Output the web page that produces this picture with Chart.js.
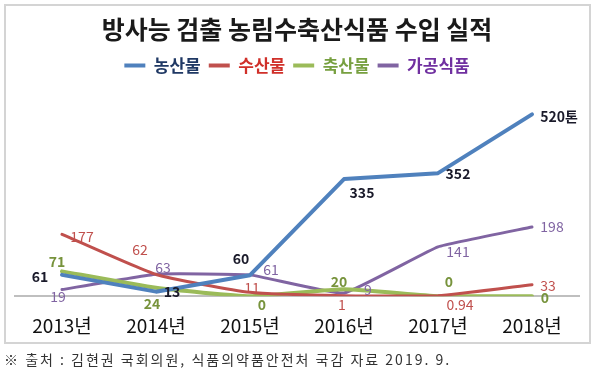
<!DOCTYPE html>
<html><head><meta charset="utf-8">
<script src="https://cdn.jsdelivr.net/npm/chart.js@4/dist/chart.umd.min.js"></script>
<style>
html,body{margin:0;padding:0;background:#fff;width:600px;height:370px;overflow:hidden}
#wrap{position:absolute;left:0;top:0;width:600px;height:364px}
#note{position:absolute;left:4px;top:349px;font:14px "Noto Sans CJK KR";color:#333;white-space:nowrap;letter-spacing:2px}
</style></head><body>
<div id="wrap"><canvas id="c" width="600" height="364"></canvas></div>
<div id="note">※ 출처 : 김현권 국회의원, 식품의약품안전처 국감 자료 2019. 9.</div>
<script>
// ---- data ----
const categories = ['2013년','2014년','2015년','2016년','2017년','2018년'];
const seriesNames = ['농산물','수산물','축산물','가공식품'];
const agri = [61, 13, 60, 335, 352, 520];
const fish = [177, 62, 11, 1, 0.94, 33];
const livestock = [71, 24, 0, 20, 0, 0];
const processed = [19, 63, 61, 9, 141, 198];
const lastSuffix = '톤';

// ---- styles ----
const FONT = '"Noto Sans CJK KR", "Noto Sans", sans-serif';
const lineColors = ['#4F81BD', '#C0504D', '#9BBB59', '#8064A2'];
const legendTextColors = ['#1F3864', '#D0302A', '#77A040', '#7030A0'];
const labelColors = ['#1a1a2a', '#C0504D', '#77933C', '#8064A2'];
const labelWeights = ['bold', 'normal', 'bold', 'normal'];
const lineWidths = [4, 3, 4, 3];
const tensions = [0, 0.15, 0.15, 0.1];
// label offsets [dx, dy] relative to each point
const labelOffsets = [
  [[-22, 2], [16, 0], [-9, -17], [18, 14], [20, 1], [27, 2]],
  [[20, 2], [-16, -25], [2, -5], [-2, 9], [22, 9], [16, 1]],
  [[-5, -10], [-4, 16], [12, 8], [-5, -8], [11, -15], [13, 1]],
  [[-4, 7], [7, -6], [21, -5], [24, -3], [20, 5], [20, 0]]
];

const seriesData = [agri, fish, livestock, processed];

const dataLabels = {
  id: 'dataLabels',
  afterDatasetsDraw(chart) {
    const ctx = chart.ctx;
    ctx.save();
    ctx.textAlign = 'center';
    ctx.textBaseline = 'middle';
    chart.data.datasets.forEach((ds, i) => {
      const meta = chart.getDatasetMeta(i);
      ctx.fillStyle = labelColors[i];
      ctx.font = labelWeights[i] + ' 14px ' + FONT;
      meta.data.forEach((pt, j) => {
        let txt = String(ds.data[j]);
        if (i === 0 && j === ds.data.length - 1) txt += lastSuffix;
        const [dx, dy] = labelOffsets[i][j];
        ctx.fillText(txt, pt.x + dx, pt.y + dy);
      });
    });
    ctx.restore();
  }
};

const frame = {
  id: 'frame',
  beforeDraw(chart) {
    const ctx = chart.ctx;
    ctx.save();
    ctx.fillStyle = '#fff';
    ctx.fillRect(0, 0, chart.width, chart.height);
    ctx.strokeStyle = '#d4d4d4';
    ctx.lineWidth = 2;
    ctx.strokeRect(5, 5, 585, 338);
    ctx.restore();
  }
};

new Chart(document.getElementById('c'), {
  type: 'line',
  data: {
    labels: categories,
    datasets: seriesData.map((d, i) => ({
      label: seriesNames[i],
      data: d,
      borderColor: lineColors[i],
      backgroundColor: lineColors[i],
      borderWidth: lineWidths[i],
      pointRadius: 0,
      tension: tensions[i],
      borderJoinStyle: 'round',
      borderCapStyle: 'round',
      fill: false
    }))
  },
  options: {
    responsive: false,
    animation: false,
    layout: { padding: { left: 15, right: 21, top: 0, bottom: 9 } },
    plugins: {
      title: {
        display: true,
        text: '방사능 검출 농림수축산식품 수입 실적',
        color: '#1a1a1a',
        font: { family: FONT, size: 25, weight: 'bold' },
        padding: { top: 14, bottom: 5 }
      },
      legend: {
        display: true,
        labels: {
          usePointStyle: true,
          pointStyle: 'line',
          pointStyleWidth: 21,
          padding: 8,
          font: { family: FONT, size: 17, weight: 'bold' },
          generateLabels(chart) {
            return chart.data.datasets.map((ds, i) => ({
              text: ds.label,
              fillStyle: lineColors[i],
              strokeStyle: lineColors[i],
              lineWidth: 4,
              pointStyle: 'line',
              fontColor: legendTextColors[i],
              hidden: false,
              datasetIndex: i
            }));
          }
        }
      },
      tooltip: { enabled: false }
    },
    scales: {
      x: {
        offset: true,
        grid: { display: false, drawTicks: false },
        border: { display: true, color: '#bfbfbf', width: 2 },
        ticks: { color: '#111', font: { family: FONT, size: 19 }, padding: 18 }
      },
      y: { display: false, min: 0, max: 607 }
    }
  },
  plugins: [frame, dataLabels]
});
</script>
</body></html>
